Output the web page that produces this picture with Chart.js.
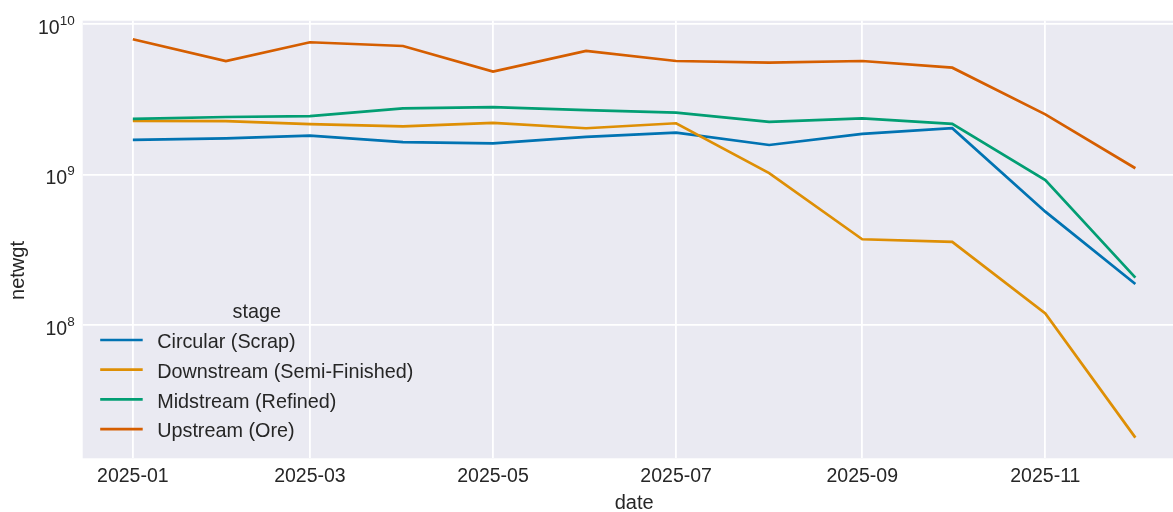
<!DOCTYPE html>
<html>
<head>
<meta charset="utf-8">
<script src="https://cdn.jsdelivr.net/npm/chart.js@4.4.1/dist/chart.umd.min.js"></script>
<style>
  html, body { margin: 0; padding: 0; background: #ffffff; overflow: hidden; }
  #wrap { width: 1186px; height: 512px; }
</style>
</head>
<body>
<div id="wrap"><canvas id="netwgtChart"></canvas></div>
<script>
// Monatswerte 2025, netwgt je Stufe
const months = ['2025-01', '2025-02', '2025-03', '2025-04', '2025-05', '2025-06',
                '2025-07', '2025-08', '2025-09', '2025-10', '2025-11', '2025-12'];
const stages = ['Circular (Scrap)', 'Downstream (Semi-Finished)', 'Midstream (Refined)', 'Upstream (Ore)'];
const circular   = [1.70e9, 1.74e9, 1.81e9, 1.64e9, 1.61e9, 1.78e9, 1.90e9, 1.57e9, 1.86e9, 2.03e9, 5.66e8, 1.87e8];
const downstream = [2.27e9, 2.26e9, 2.16e9, 2.09e9, 2.20e9, 2.03e9, 2.19e9, 1.02e9, 3.71e8, 3.56e8, 1.19e8, 1.78e7];
const midstream  = [2.34e9, 2.41e9, 2.44e9, 2.75e9, 2.80e9, 2.68e9, 2.58e9, 2.24e9, 2.36e9, 2.17e9, 9.19e8, 2.06e8];
const upstream   = [7.92e9, 5.68e9, 7.57e9, 7.15e9, 4.83e9, 6.63e9, 5.68e9, 5.54e9, 5.68e9, 5.13e9, 2.51e9, 1.10e9];

// Achsenbeschriftungen
const xTickLabels = ['2025-01', '2025-03', '2025-05', '2025-07', '2025-09', '2025-11'];
const yTickValues = [1e8, 1e9, 1e10];
const yTickExponents = ['8', '9', '10'];
const yTitle = 'netwgt';
const legendTitle = 'stage';

const palette = ['#0173B2', '#DE8F05', '#029E73', '#D55E00'];
const FONT = "'Liberation Sans', Arial, sans-serif";
const TEXT = '#262626';
const DAY = 86400000;

// 'YYYY-MM' -> Zeitstempel (UTC, Monatserster)
function toTs(label) {
    const [y, m] = label.split('-').map(Number);
    return Date.UTC(y, m - 1, 1);
}

const seriesValues = [circular, downstream, midstream, upstream];
const xs = months.map(toTs);

// Hintergrund der Zeichenfläche
const areaBackground = {
    id: 'areaBackground',
    beforeDraw(chart) {
        const { ctx, chartArea: a } = chart;
        ctx.save();
        ctx.fillStyle = '#EAEAF2';
        ctx.fillRect(a.left, a.top, a.right - a.left, a.bottom - a.top);
        ctx.restore();
    }
};

// Log-Ticks als 10 mit Exponent, dazu der Achsentitel
const powerTicks = {
    id: 'powerTicks',
    afterDraw(chart) {
        const { ctx, chartArea: a } = chart;
        const ys = chart.scales.y;
        ctx.save();
        ctx.fillStyle = TEXT;
        ctx.textBaseline = 'alphabetic';
        ctx.textAlign = 'left';
        yTickValues.forEach((v, i) => {
            const y = ys.getPixelForValue(v);
            ctx.font = `13.5px ${FONT}`;
            const expW = ctx.measureText(yTickExponents[i]).width;
            ctx.font = `19.5px ${FONT}`;
            const baseW = ctx.measureText('10').width;
            const right = ys.right - 8;
            ctx.fillText('10', right - expW - baseW, y + 10);
            ctx.font = `13.5px ${FONT}`;
            ctx.fillText(yTickExponents[i], right - expW, y + 1);
        });

        ctx.translate(18, (a.top + a.bottom) / 2 + 31);
        ctx.rotate(-Math.PI / 2);
        ctx.font = `20px ${FONT}`;
        ctx.textAlign = 'center';
        ctx.textBaseline = 'middle';
        ctx.fillText(yTitle, 0, 0);
        ctx.restore();
    }
};

// Legende unten links ohne Rahmen
const stageLegend = {
    id: 'stageLegend',
    afterDatasetsDraw(chart) {
        const { ctx, chartArea: a } = chart;
        const x0 = a.left + 17.5;
        const x1 = a.left + 60;
        const tx = a.left + 74.5;
        const firstY = a.bottom - 118.3;
        const step = 29.7;
        ctx.save();
        ctx.font = `19.8px ${FONT}`;
        ctx.fillStyle = TEXT;
        let maxW = 0;
        chart.data.datasets.forEach((ds, i) => {
            const y = firstY + i * step;
            ctx.strokeStyle = ds.borderColor;
            ctx.lineWidth = ds.borderWidth;
            ctx.beginPath();
            ctx.moveTo(x0, y);
            ctx.lineTo(x1, y);
            ctx.stroke();
            ctx.textAlign = 'left';
            ctx.textBaseline = 'alphabetic';
            ctx.fillText(ds.label, tx, y + 8.3);
            maxW = Math.max(maxW, ctx.measureText(ds.label).width);
        });
        ctx.textAlign = 'center';
        ctx.fillText(legendTitle, (x0 + tx + maxW) / 2, firstY - 22.3);
        ctx.restore();
    }
};

const ctx = document.getElementById('netwgtChart').getContext('2d');

new Chart(ctx, {
    type: 'line',
    data: {
        datasets: stages.map((name, i) => ({
            label: name,
            data: xs.map((x, j) => ({ x: x, y: seriesValues[i][j] })),
            borderColor: palette[i],
            backgroundColor: palette[i],
            borderWidth: 2.7,
            pointRadius: 0,
            tension: 0,
            fill: false,
            order: stages.length - i
        }))
    },
    options: {
        responsive: true,
        maintainAspectRatio: false,
        devicePixelRatio: 1,
        animation: false,
        events: [],
        layout: {
            padding: { top: 20.7, left: 0, right: 0.5, bottom: 0 }
        },
        plugins: {
            legend: { display: false },
            tooltip: { enabled: false }
        },
        scales: {
            x: {
                type: 'linear',
                min: xs[0] - 16.7 * DAY,
                max: xs[xs.length - 1] + 16.7 * DAY,
                afterBuildTicks: scale => {
                    scale.ticks = xTickLabels.map(l => ({ value: toTs(l) }));
                },
                afterFit: scale => { scale.height = 53.7; },
                grid: { color: '#ffffff', lineWidth: 1.8, drawTicks: false },
                border: { display: false },
                ticks: {
                    autoSkip: false,
                    maxRotation: 0,
                    padding: 7,
                    color: TEXT,
                    font: { family: FONT, size: 19.5 },
                    callback: value => {
                        const i = xTickLabels.findIndex(l => toTs(l) === value);
                        return i >= 0 ? xTickLabels[i] : '';
                    }
                },
                title: {
                    display: true,
                    text: 'date',
                    color: TEXT,
                    font: { family: FONT, size: 20, lineHeight: 0.85 },
                    padding: { top: 0, bottom: 0 }
                }
            },
            y: {
                type: 'logarithmic',
                min: 1.297e7,
                max: 1.053e10,
                afterBuildTicks: scale => {
                    scale.ticks = yTickValues.map(v => ({ value: v }));
                },
                afterFit: scale => { scale.width = 82.7; },
                grid: { color: '#ffffff', lineWidth: 1.8, drawTicks: false },
                border: { display: false },
                ticks: { display: false }
            }
        }
    },
    plugins: [areaBackground, powerTicks, stageLegend]
});
</script>
</body>
</html>
